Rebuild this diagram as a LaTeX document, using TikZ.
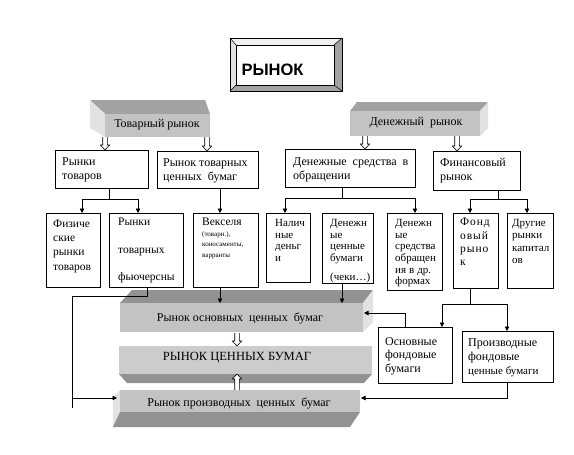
\documentclass[tikz,border=0pt]{standalone}
\usepackage{fontspec}
\setmainfont{Liberation Serif}
\newfontfamily\sansbold{Liberation Sans}
\usetikzlibrary{arrows.meta}
\definecolor{facec}{HTML}{C3C3C3}
\definecolor{topc}{HTML}{A2A2A2}
\definecolor{sidec}{HTML}{E2E2E2}
\definecolor{botc}{HTML}{8E8E8E}
\newcommand\hdown[3]{\path[hol] (#1-2.3,#2) -- (#1-2.3,#3-5) -- (#1-4.6,#3-5) -- (#1,#3) -- (#1+4.6,#3-5) -- (#1+2.3,#3-5) -- (#1+2.3,#2);}
\newcommand\hup[3]{\path[hol] (#1-2.3,#2) -- (#1-2.3,#3+5) -- (#1-4.6,#3+5) -- (#1,#3) -- (#1+4.6,#3+5) -- (#1+2.3,#3+5) -- (#1+2.3,#2);}
\begin{document}
\begin{tikzpicture}[x=1pt,y=-1pt,
  box/.style={draw, line width=0.75pt, fill=white, inner sep=0pt, anchor=north west},
  face/.style={fill=facec, inner sep=0pt, anchor=north west},
  lbl/.style={inner sep=0pt, font=\fontsize{12}{14}\selectfont},
  tA/.style={inner sep=0pt, anchor=north west, align=left, font=\fontsize{12}{14}\selectfont},
  tB/.style={inner sep=0pt, anchor=north west, align=left, font=\fontsize{11.5}{13.8}\selectfont},
  tC/.style={inner sep=0pt, anchor=north west, align=left, font=\fontsize{11}{11.7}\selectfont},
  conn/.style={line width=0.7pt},
  arr/.style={conn, -{Triangle[length=4.5pt,width=4.5pt]}},
  hol/.style={draw, fill=white, line width=0.6pt}]
\useasboundingbox (0,0) rectangle (574,455);

% ---------- РЫНОК frame
\fill[white!94!black] (230,38) -- (342,38) -- (334,45) -- (236,45) -- cycle;
\fill[sidec] (230,38) -- (236,45) -- (236,85) -- (230,91) -- cycle;
\fill[topc] (342,38) -- (342,91) -- (334,85) -- (334,45) -- cycle;
\fill[topc] (230,91) -- (342,91) -- (334,85) -- (236,85) -- cycle;
\draw[line width=0.7pt] (230,38) rectangle (342,91);
\draw[line width=0.5pt] (230,38) -- (236,45) (342,38) -- (334,45) (230,91) -- (236,85) (342,91) -- (334,85);
\node[box, minimum width=98, minimum height=40] (frame) at (236,45) {};
\node[inner sep=0pt, font=\sansbold\bfseries\fontsize{16.5}{19}\selectfont] (rynok) at (272.5,70) {РЫНОК};

% ---------- 3D: Товарный рынок
\fill[topc] (90,100) -- (205,100) -- (210,114) -- (105,114) -- cycle;
\fill[sidec] (90,100) -- (105,114) -- (105,137) -- (90,128) -- cycle;
\node[face, minimum width=105, minimum height=23] (tov) at (105,114) {};
\node[lbl] (tovT) at (157,125) {Товарный рынок};

% ---------- 3D: Денежный рынок
\fill[topc] (357,102) -- (488,102) -- (480,111) -- (350,111) -- cycle;
\fill[sidec] (480,111) -- (488,102) -- (488,128) -- (480,136) -- cycle;
\node[face, minimum width=130, minimum height=25] (den) at (350,111) {};
\node[lbl] (denT) at (416,123) {Денежный\ \ рынок};

% ---------- level 2 boxes
\node[box, minimum width=93, minimum height=38] (rt) at (55,150) {};
\node[tA] (rtT) at (62,157) {Рынки\\товаров};
\node[box, minimum width=101, minimum height=37] (rtc) at (157,151) {};
\node[tA] (rtcT) at (163,158) {Рынок товарных\\ценных\ \ бумаг};
\node[box, minimum width=130, minimum height=38] (dso) at (285,149) {};
\node[tA] (dsoT) at (293,157) {Денежные\hspace{6pt}средства\hspace{6pt}в\\обращении};
\node[box, minimum width=87, minimum height=39] (fin) at (433,151) {};
\node[tA] (finT) at (440,158) {Финансовый\\рынок};

% hollow arrows from the top bars
\hdown{105}{137}{150}
\hdown{207}{137}{151}
\hdown{365}{136}{149}
\hdown{457}{136}{151}

% ---------- level 3 boxes
\node[box, minimum width=54, minimum height=74] (fiz) at (46,213) {};
\node[tB] (fizT) at (53,220) {Физиче\\[0.3pt]ские\\[0.3pt]рынки\\[0.3pt]товаров};
\node[box, minimum width=74, minimum height=74] (fut) at (109,213) {};
\node[tB] (futT) at (118,218) {Рынки\\[13.5pt]товарных\\[13.5pt]фьючерсны};
\node[box, minimum width=65, minimum height=74] (vek) at (193,213) {};
\node[tB] (vekT) at (202,218) {Векселя\\[-3pt]{\fontsize{7}{9.5}\selectfont (товарн.),}\\[-3.5pt]{\fontsize{7}{9.5}\selectfont коносаменты,}\\[-3.5pt]{\fontsize{7}{9.5}\selectfont варранты}};
\node[box, minimum width=44, minimum height=69] (nal) at (266,213) {};
\node[tC] (nalT) at (275,219) {Налич\\ные\\деньг\\и};
\node[box, minimum width=51, minimum height=70] (dcb) at (322,213) {};
\node[tC] (dcbT) at (330,219) {Денежн\\ые\\ценные\\бумаги\\[7pt](чеки…)};
\node[box, minimum width=55, minimum height=77] (dsd) at (387,213) {};
\node[tC] (dsdT) at (395,219) {Денежн\\ые\\средства\\обращен\\ия\hspace{3pt}в\hspace{3pt}др.\\формах};
\node[box, minimum width=45, minimum height=75] (fon) at (453,213) {};
\node[tA, font=\fontsize{11.5}{13.3}\selectfont\addfontfeature{LetterSpace=8}] (fonT) at (460,218) {Фонд\\овый\\рыно\\к};
\node[box, minimum width=46, minimum height=75] (dru) at (507,213) {};
\node[tC, font=\fontsize{11}{12.3}\selectfont] (druT) at (512,219) {Другие\\рынки\\капитал\\ов};

% ---------- level 4 boxes
\node[box, minimum width=74, minimum height=56] (osn) at (378,327) {};
\node[tA, font=\fontsize{12}{13.5}\selectfont] (osnT) at (385,337) {Основные\\фондовые\\бумаги};
\node[box, minimum width=91, minimum height=51] (proi) at (462,331) {};
\node[tA, font=\fontsize{12}{14}\selectfont] (proiT) at (468,338) {Производные\\фондовые\\{\fontsize{11}{13}\selectfont ценные бумаги}};

% ---------- 3D: Рынок основных ценных бумаг
\fill[topc!90!black] (132,290) -- (373,290) -- (363,303) -- (120,303) -- cycle;
\fill[sidec] (363,303) -- (373,290) -- (373,322) -- (363,332) -- cycle;
\node[face, minimum width=243, minimum height=29] (osb) at (120,303) {};
\node[lbl] (osbT) at (240,318) {Рынок основных\ \ ценных\ \ бумаг};

% ---------- 3D: РЫНОК ЦЕННЫХ БУМАГ
\fill[topc!90!black] (119,374) -- (372,374) -- (364,383) -- (127,383) -- cycle;
\node[face, minimum width=253, minimum height=28, fill=facec!85!white] (rcb) at (119,346) {};
\node[lbl, font=\fontsize{12.5}{15}\selectfont] (rcbT) at (237,358) {РЫНОК ЦЕННЫХ БУМАГ};

% ---------- 3D: Рынок производных ценных бумаг
\fill[sidec] (120,390) -- (120,412) -- (113,427) -- (113,397) -- cycle;
\fill[topc!90!black] (120,412) -- (360,412) -- (350,427) -- (113,427) -- cycle;
\node[face, minimum width=240, minimum height=22] (prb) at (120,390) {};
\node[lbl] (prbT) at (239,403) {Рынок производных\ \ ценных\ \ бумаг};

% hollow arrows between the bars
\hdown{237}{333}{346}
\hup{237}{390}{374}

% ---------- connectors
\coordinate (j1) at (109,199);
\coordinate (fx) at (82,199);
\coordinate (ux) at (138,199);
\draw[conn] (j1 |- rt.south) -- (j1);
\draw[conn] (fx) -- (ux);
\draw[arr] (fx) -- (fx |- fiz.north);
\draw[arr] (ux) -- (ux |- fut.north);

\coordinate (v1) at (220,0);
\draw[arr] (v1 |- rtc.south) -- (v1 |- vek.north);

\coordinate (j2) at (342,198);
\coordinate (nx) at (285,198);
\coordinate (sx) at (415,198);
\draw[conn] (j2 |- dso.south) -- (j2);
\draw[conn] (nx) -- (sx);
\draw[arr] (nx) -- (nx |- nal.north);
\draw[arr] (sx) -- (sx |- dsd.north);

\coordinate (j3) at (498,199);
\coordinate (fox) at (470,199);
\coordinate (drx) at (527,199);
\draw[conn] (j3 |- fin.south) -- (j3);
\draw[conn] (fox) -- (drx);
\draw[arr] (fox) -- (fox |- fon.north);
\draw[arr] (drx) -- (drx |- dru.north);

% фьючерсы -> производных
\coordinate (k1) at (147,296);
\coordinate (k2) at (72,296);
\coordinate (k3) at (72,408);
\coordinate (k4) at (72,398);
\coordinate (pL) at (117,398);
\draw[conn] (k1 |- fut.south) -- (k1) -- (k2) -- (k3);
\draw[arr] (k4) -- (pL);

% векселя, денежные ценные бумаги -> основных
\draw[arr] (v1 |- vek.south) -- (v1 |- osb.north);
\draw[arr] (j2 |- dcb.south) -- (j2 |- osb.north);

% фондовый рынок -> основные / производные
\coordinate (j4) at (470,304);
\coordinate (ox) at (442,304);
\coordinate (px) at (507,304);
\draw[conn] (j4 |- fon.south) -- (j4);
\draw[conn] (ox) -- (px);
\draw[arr] (ox) -- (ox |- osn.north);
\draw[arr] (px) -- (px |- proi.north);

% основные -> рынок основных
\coordinate (m1) at (405,313);
\coordinate (m2) at (364,313);
\draw[arr] (m1 |- osn.north) -- (m1) -- (m2);

% производные -> рынок производных
\coordinate (m3) at (507,398);
\coordinate (m4) at (361,398);
\draw[arr] (m3 |- proi.south) -- (m3) -- (m4);
\end{tikzpicture}
\end{document}
